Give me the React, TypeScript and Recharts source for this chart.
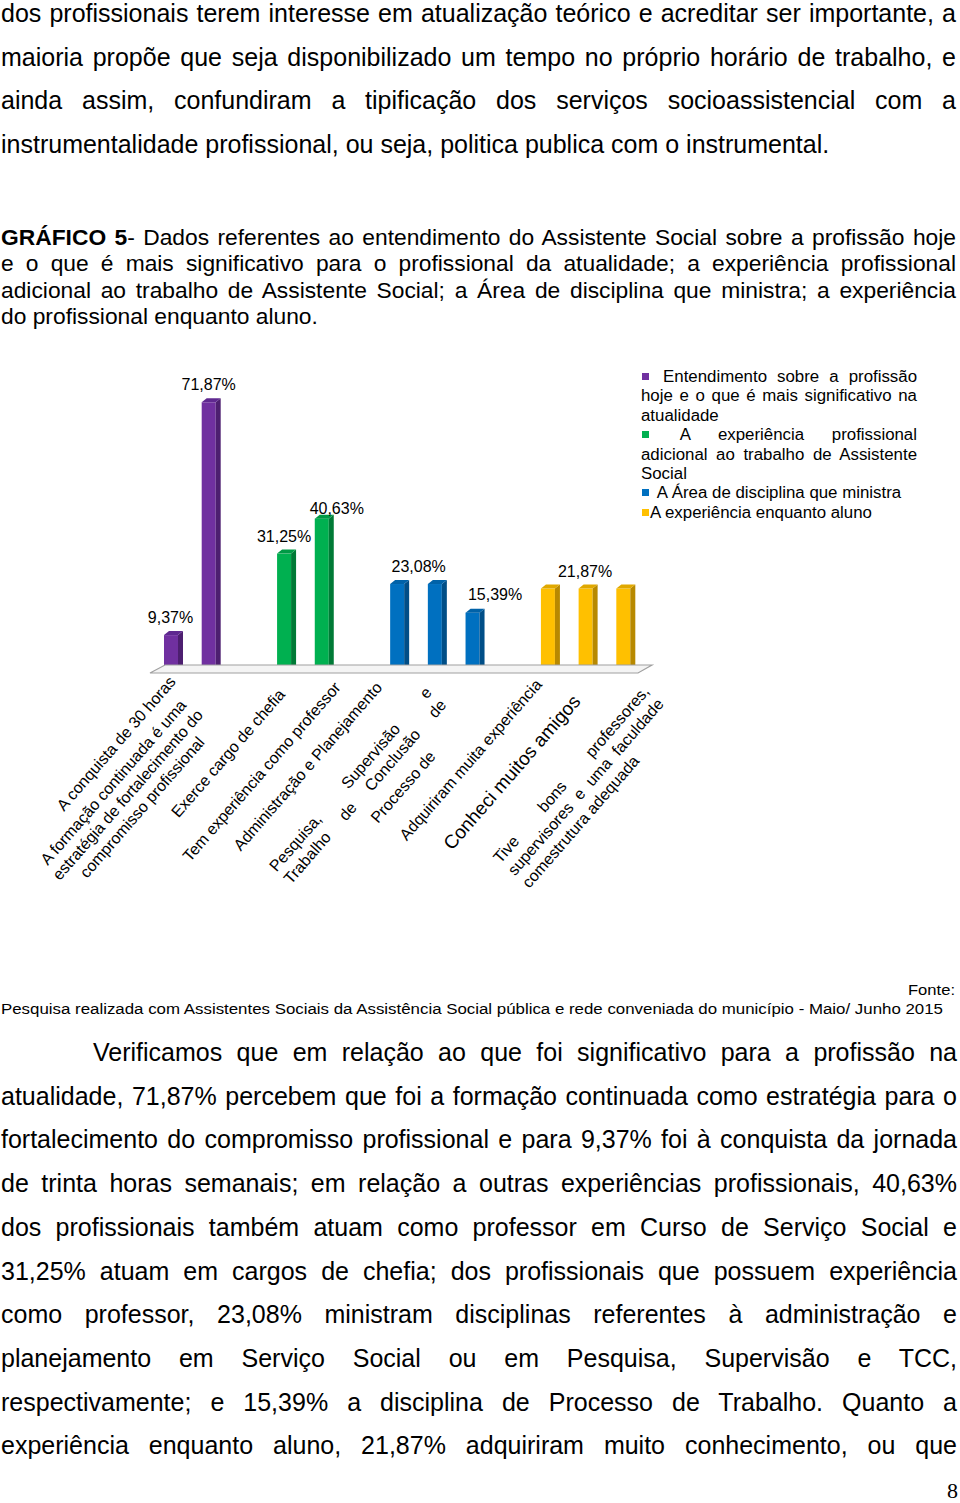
import React from 'react'
import { BarChart, Bar, XAxis, YAxis, Legend, LabelList, ReferenceLine } from 'recharts'

// rotulos do eixo, como aparecem quebrados na figura (vazio = espaço entre grupos)
const categoryLines: string[][] = [
  ['A conquista de 30 horas'],
  ['A formação continuada é uma', 'estratégia de fortalecimento do', 'compromisso profissional'],
  [],
  ['Exerce cargo de chefia'],
  ['Tem experiência como professor'],
  [],
  ['Administração e Planejamento'],
  ['Pesquisa, Supervisão e', 'Trabalho de Conclusão de'],
  ['Processo de'],
  [],
  ['Adquiriram muita experiência'],
  ['Conheci muitos amigos'],
  ['Tive bons professores,', 'supervisores e uma faculdade', 'comestrutura adequada'],
]

const entendimento = [9.37, 71.87, null, null, null, null, null, null, null, null, null, null, null]
const experienciaAdicional = [null, null, null, 31.25, 40.63, null, null, null, null, null, null, null, null]
const areaDisciplina = [null, null, null, null, null, null, 23.08, 23.08, 15.39, null, null, null, null]
const experienciaAluno = [null, null, null, null, null, null, null, null, null, null, 21.87, 21.87, 21.87]

const seriesNames = [
  'Entendimento sobre a profissão hoje e o que é mais significativo na atualidade',
  'A experiência profissional adicional ao trabalho de Assistente Social',
  'A Área de disciplina que ministra',
  'A experiência enquanto aluno',
]
const seriesKeys = ['entendimento', 'adicional', 'area', 'aluno']

const data = categoryLines.map((lines, i) => ({
  name: lines.join(' '),
  entendimento: entendimento[i],
  adicional: experienciaAdicional[i],
  area: areaDisciplina[i],
  aluno: experienciaAluno[i],
}))

const COLORS = ['#7030A0', '#00B050', '#0070C0', '#FFC000']
const SIDE = ['#4d1f70', '#007a36', '#004e87', '#b88900']
const TOP = ['#5f2890', '#009a45', '#0062a8', '#e0a800']
const LEGEND_SPACE = [true, true, true, false]

// onde cada rótulo de valor fica, relativo ao topo da barra
const VALUE_LABEL_NUDGE: Record<number, [number, number]> = {
  0: [-3, -12], 1: [-2.5, -12], 3: [-2.5, -12], 4: [12.5, -5],
  6: [19, -12], 8: [20, -13], 11: [-3, -12],
}

// posição/alinhamento dos rótulos inclinados
type TickStyle = { dx: number; dy: number; size: number; align: 'center' | 'justify'; w?: number; all?: boolean }
const TICK_STYLE: (TickStyle | null)[] = [
  { dx: 3, dy: 12, size: 16, align: 'center' },
  { dx: -22, dy: 33, size: 16, align: 'center' },
  null,
  { dx: -1, dy: 25, size: 16, align: 'center' },
  { dx: 17, dy: 18, size: 16, align: 'center' },
  null,
  { dx: -17, dy: 18, size: 16, align: 'center' },
  { dx: -5, dy: 23, size: 16, align: 'justify', w: 238, all: true },
  { dx: -39, dy: 87, size: 16, align: 'center' },
  null,
  { dx: -8, dy: 15, size: 16, align: 'center' },
  { dx: -7, dy: 32, size: 19, align: 'center' },
  { dx: 24, dy: 22, size: 16, align: 'justify', w: 228 },
]
const ROT = -49
const SANS = '"Liberation Sans", Arial, sans-serif'

let ctx: CanvasRenderingContext2D | null = null
function textWidth(s: string, size: number) {
  if (!ctx) ctx = document.createElement('canvas').getContext('2d')
  if (!ctx) return s.length * size * 0.5
  ctx.font = `${size}px "Liberation Sans"`
  return ctx.measureText(s).width
}

// espalha as palavras de uma linha pela largura W (como o Word justifica)
function justified(line: string, W: number, size: number, yy: number, key: number) {
  const words = line.split(/\s+/).filter(Boolean)
  const ws = words.map((w) => textWidth(w, size))
  const total = ws.reduce((a, b) => a + b, 0)
  const gap = words.length > 1 ? (W - total) / (words.length - 1) : 0
  let cx = -W
  return words.map((w, j) => {
    const el = <text key={`${key}-${j}`} x={cx} y={yy}>{w}</text>
    cx += ws[j] + gap
    return el
  })
}

function CategoryTick(props: any) {
  const { x, y } = props
  const i = props.index ?? props.payload?.index
  const lines = categoryLines[i]
  const st = TICK_STYLE[i]
  if (!lines || !lines.length || !st) return <g />
  const lh = st.size * 1.19
  const W = st.w ?? Math.max(...lines.map((l) => textWidth(l, st.size)))
  return (
    <g transform={`translate(${x + st.dx},${y + st.dy}) rotate(${ROT})`} fontFamily={SANS} fontSize={st.size} fill="#000">
      {lines.map((ln, k) => {
        const yy = k * lh
        if (st.align === 'justify' && (st.all || k < lines.length - 1)) return justified(ln, W, st.size, yy, k)
        if (st.align === 'justify')
          return <text key={k} x={-W} y={yy} textAnchor="start">{ln}</text>
        return <text key={k} x={-W / 2} y={yy} textAnchor="middle">{ln}</text>
      })}
    </g>
  )
}

function Bar3D(props: any) {
  const { x, y, width, height, fill, side, top } = props
  if (!height || height <= 0 || isNaN(y)) return <g />
  const dx = 5
  const dy = 4
  const fw = width - dx
  return (
    <g>
      <rect x={x} y={y} width={fw} height={height} fill={fill} />
      <polygon points={`${x + fw},${y} ${x + width},${y - dy} ${x + width},${y + height - dy} ${x + fw},${y + height}`} fill={side} />
      <polygon points={`${x},${y} ${x + dx},${y - dy} ${x + width},${y - dy} ${x + fw},${y}`} fill={top} />
    </g>
  )
}

function Floor(p: any) {
  const x1 = p.x1 ?? p.x
  const x2 = p.x2
  const y = p.y1 ?? p.y
  if (x1 == null || x2 == null || y == null) return <g />
  const pts = `${x1 - 5},${y + 3} ${x1 + 10},${y - 5} ${x2 + 7},${y - 5} ${x2 - 7},${y + 3}`
  return <polygon points={pts} fill="#f4f4f4" stroke="#a0a0a0" strokeWidth={1.2} />
}

const fmt = (v: number) => `${v.toFixed(2).replace('.', ',')}%`

const renderValueLabel = (p: any) => {
  const { x, y, width, value, index } = p
  const nudge = VALUE_LABEL_NUDGE[index]
  if (value == null || !nudge || isNaN(x)) return null
  return (
    <text x={x + width / 2 + nudge[0]} y={y + nudge[1]} textAnchor="middle" fontSize={16} fontFamily={SANS} fill="#000">
      {fmt(Number(value))}
    </text>
  )
}

function LegendBox() {
  return (
    <div style={{ width: 276, fontFamily: SANS, fontSize: 16.85, lineHeight: '19.4px', color: '#000' }}>
      {seriesNames.map((n, i) => (
        <div key={n} style={{ textAlign: 'justify' }}>
          <span
            style={{
              display: 'inline-block', width: 7, height: 7, background: COLORS[i],
              marginLeft: 1, marginRight: LEGEND_SPACE[i] ? 4 : 1, marginBottom: 2,
            }}
          />
          {LEGEND_SPACE[i] ? ' ' : ''}
          {n}
        </div>
      ))}
    </div>
  )
}

function Lines({ lines, top, left, width, size, lh, justifyLast = true, indent = 0 }: any) {
  return (
    <div style={{ position: 'absolute', top, left, width, fontSize: size, lineHeight: `${lh}px`, fontFamily: SANS, color: '#000' }}>
      {lines.map((l: React.ReactNode, i: number) => (
        <div
          key={i}
          style={{
            whiteSpace: 'nowrap',
            textAlign: 'justify',
            textAlignLast: i === lines.length - 1 && !justifyLast ? 'left' : 'justify',
            paddingLeft: i === 0 ? indent : 0,
          }}
        >
          {l}
        </div>
      ))}
    </div>
  )
}

const topText = [
  'dos profissionais terem interesse em atualização teórico e acreditar ser importante, a',
  'maioria propõe que seja disponibilizado um tempo no próprio horário de trabalho, e',
  'ainda assim, confundiram a tipificação dos serviços socioassistencial com a',
  'instrumentalidade profissional, ou seja, politica publica com o instrumental.',
]

const captionText = [
  <><b>GRÁFICO 5</b>- Dados referentes ao entendimento do Assistente Social sobre a profissão hoje</>,
  'e o que é mais significativo para o profissional da atualidade; a experiência profissional',
  'adicional ao trabalho de Assistente Social; a Área de disciplina que ministra; a experiência',
  'do profissional enquanto aluno.',
]

const bottomText = [
  'Verificamos que em relação ao que foi significativo para a profissão na',
  'atualidade, 71,87% percebem que foi a formação continuada como estratégia para o',
  'fortalecimento do compromisso profissional e para 9,37% foi à conquista da jornada',
  'de trinta horas semanais; em relação a outras experiências profissionais, 40,63%',
  'dos profissionais também atuam como professor em Curso de Serviço Social e',
  '31,25% atuam em cargos de chefia; dos profissionais que possuem experiência',
  'como professor, 23,08% ministram disciplinas referentes à administração e',
  'planejamento em Serviço Social ou em Pesquisa, Supervisão e TCC,',
  'respectivamente; e 15,39% a disciplina de Processo de Trabalho. Quanto a',
  'experiência enquanto aluno, 21,87% adquiriram muito conhecimento, ou que',
]

export default function App() {
  return (
    <div style={{ position: 'absolute', left: 0, top: 0, width: 960, height: 1503, overflow: 'hidden', background: '#fff' }}>
      <Lines lines={topText} top={-8} left={1} width={955} size={25} lh={43.6} justifyLast={false} />
      <Lines lines={captionText} top={223.5} left={1} width={955} size={22.8} lh={26.5} justifyLast={false} />

      <div style={{ position: 'absolute', left: 0, top: 355 }}>
        <BarChart width={960} height={600} data={data} margin={{ top: 17, right: 315, bottom: 5, left: 155 }} barSize={19}>
          <YAxis hide width={0} domain={[0, 80]} />
          <XAxis
            dataKey="name"
            height={280}
            interval={0}
            axisLine={false}
            tickLine={false}
            tickSize={0}
            tickMargin={0}
            tick={<CategoryTick />}
          />
          <ReferenceLine y={0} shape={(p: any) => <Floor {...p} />} />
          <Legend
            layout="vertical"
            align="center"
            verticalAlign="middle"
            wrapperStyle={{ left: 641, top: 12, width: 276, right: 'auto', bottom: 'auto' }}
            content={() => <LegendBox />}
          />
          {seriesKeys.map((k, i) => (
            <Bar
              key={k}
              dataKey={k}
              name={seriesNames[i]}
              stackId="g"
              fill={COLORS[i]}
              isAnimationActive={false}
              shape={(p: any) => <Bar3D {...p} side={SIDE[i]} top={TOP[i]} />}
            >
              <LabelList dataKey={k} content={renderValueLabel} />
            </Bar>
          ))}
        </BarChart>
      </div>

      <svg width={960} height={45} style={{ position: 'absolute', left: 0, top: 978 }} fontFamily={'"Liberation Sans Narrow", "Liberation Sans", Arial, sans-serif'}>
        <text x={955} y={16.5} textAnchor="end" fontSize={15.5} textLength={47} lengthAdjust="spacingAndGlyphs">Fonte:</text>
        <text x={1} y={36} fontSize={15.5} textLength={942} lengthAdjust="spacingAndGlyphs">
          Pesquisa realizada com Assistentes Sociais da Assistência Social pública e rede conveniada do município - Maio/ Junho 2015
        </text>
      </svg>

      <Lines lines={bottomText} top={1031} left={1} width={956} size={25} lh={43.7} indent={92} />

      <div style={{ position: 'absolute', right: 2, top: 1478, fontFamily: '"Liberation Serif", serif', fontSize: 22, lineHeight: '26px' }}>8</div>
    </div>
  )
}
